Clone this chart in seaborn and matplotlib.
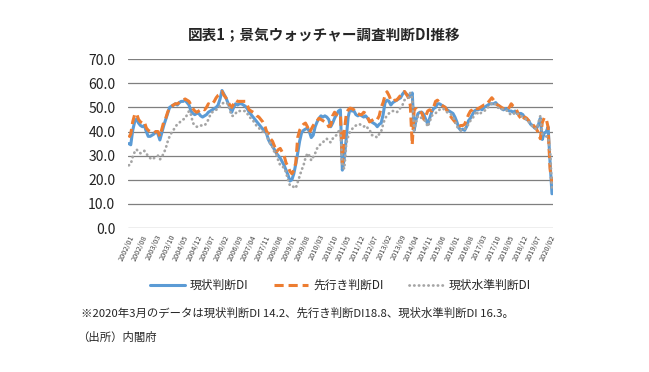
import matplotlib
matplotlib.use('Agg')
import matplotlib.pyplot as plt
import seaborn as sns
import pandas as pd

# months 2002/01 .. 2020/03
months = pd.period_range('2002-01', '2020-03', freq='M').strftime('%Y/%m').tolist()

# 現状判断DI
current_di = [
    35.0, 34.5, 40.5, 44.0, 45.2, 43.5, 42.5, 42.0, 42.5, 40.0, 38.0, 38.0,  # 2002
    38.5, 39.0, 40.0, 39.0, 36.5, 39.5, 42.5, 45.0, 47.5, 50.0, 50.5, 51.0,  # 2003
    51.5, 51.0, 52.0, 52.5, 52.5, 53.0, 52.0, 51.0, 48.5, 47.5, 47.0, 47.5,  # 2004
    47.5, 46.5, 46.0, 46.5, 47.0, 48.0, 48.5, 49.0, 49.5, 50.0, 51.0, 53.5,  # 2005
    57.0, 55.5, 54.0, 52.0, 50.0, 48.0, 50.0, 51.5, 51.0, 51.5, 51.5, 51.0,  # 2006
    50.5, 49.5, 48.0, 47.0, 46.0, 45.0, 44.0, 43.0, 42.0, 41.0, 40.5, 39.0,  # 2007
    36.5, 35.0, 34.0, 32.5, 31.0, 30.0, 29.0, 27.5, 26.0, 24.0, 22.0, 19.5,  # 2008
    20.0, 22.5, 26.5, 31.0, 36.0, 39.5, 40.5, 41.0, 41.5, 40.0, 37.5, 38.5,  # 2009
    42.0, 44.0, 45.5, 46.5, 46.0, 46.5, 46.0, 45.0, 42.0, 43.5, 45.5, 47.0,  # 2010
    48.5, 49.0, 24.0, 29.0, 37.0, 46.0, 49.5, 48.5, 48.5, 47.0, 46.5, 47.0,  # 2011
    46.5, 46.0, 46.5, 45.5, 44.5, 44.0, 43.5, 43.0, 42.0, 43.0, 43.5, 47.0,  # 2012
    52.0, 53.0, 52.5, 51.0, 52.0, 52.5, 53.0, 53.5, 54.0, 55.5, 56.5, 55.5,  # 2013
    55.0, 54.5, 56.0, 40.5, 45.0, 47.5, 48.0, 48.0, 47.0, 45.0, 43.0, 45.5,  # 2014
    48.0, 49.5, 50.0, 51.5, 51.5, 51.0, 50.5, 50.0, 49.0, 48.5, 48.0, 47.5,  # 2015
    46.0, 44.0, 41.5, 40.5, 41.0, 40.5, 42.0, 44.5, 45.5, 47.0, 48.5, 49.0,  # 2016
    49.0, 49.5, 49.0, 50.0, 50.5, 51.0, 51.5, 51.5, 51.5, 52.0, 51.0, 50.5,  # 2017
    49.5, 49.0, 49.5, 49.0, 48.5, 48.5, 48.0, 48.5, 47.5, 47.5, 47.5, 47.0,  # 2018
    45.5, 45.0, 44.5, 43.0, 42.5, 41.5, 41.2, 42.8, 45.5, 36.7, 39.4, 39.8,  # 2019
    41.9, 27.4, 14.2,                                                        # 2020
]

# 先行き判断DI
future_di = [
    37.5, 39.0, 44.0, 47.0, 47.5, 45.0, 44.0, 43.5, 44.0, 41.5, 40.5, 40.0,
    39.5, 39.5, 40.0, 40.0, 38.0, 41.0, 44.0, 45.5, 48.0, 50.0, 50.5, 51.0,
    51.5, 51.5, 52.0, 52.5, 53.0, 53.5, 53.0, 52.5, 51.0, 49.5, 48.5, 48.0,
    48.5, 49.0, 49.5, 49.0, 50.0, 51.5, 51.0, 51.5, 52.5, 54.0, 55.0, 55.5,
    56.6, 55.0, 54.0, 52.5, 51.0, 50.0, 51.5, 53.0, 52.5, 52.5, 52.5, 52.5,
    52.5, 51.0, 49.0, 48.5, 48.0, 47.5, 46.5, 46.0, 45.0, 44.0, 42.5, 40.0,
    39.0, 37.0, 36.0, 34.0, 31.5, 32.5, 33.0, 31.5, 30.0, 27.0, 25.5, 23.5,
    22.5, 24.0, 27.0, 37.5, 40.5, 42.0, 43.0, 43.5, 42.0, 39.5, 41.0, 42.5,
    43.6, 44.5, 45.5, 45.0, 44.5, 44.0, 43.6, 42.0, 42.5, 46.5, 48.0, 47.0,
    46.5, 47.0, 27.0, 40.0, 47.0, 49.0, 49.7, 49.5, 49.0, 48.0, 47.5, 47.0,
    47.0, 48.0, 47.5, 46.0, 44.0, 44.5, 45.0, 45.5, 45.0, 46.5, 50.0, 52.0,
    55.0, 56.5, 55.0, 53.0, 52.5, 53.0, 53.0, 54.0, 55.0, 55.6, 56.6, 55.5,
    54.0, 51.0, 34.5, 49.0, 49.5, 48.5, 48.5, 47.5, 45.0, 46.5, 48.5, 49.0,
    48.5, 50.0, 52.5, 53.0, 52.0, 51.0, 50.5, 50.0, 48.5, 47.5, 46.0, 45.0,
    44.0, 43.0, 42.0, 42.5, 42.5, 43.0, 45.0, 47.0, 48.5, 49.0, 50.0, 49.5,
    49.5, 50.0, 50.5, 51.0, 51.0, 52.0, 53.0, 54.0, 53.0, 51.5, 51.0, 50.5,
    50.0, 49.5, 49.0, 49.0, 50.0, 51.5, 50.5, 50.0, 48.5, 46.5, 45.5, 44.5,
    46.0, 45.5, 44.5, 43.5, 43.0, 42.0, 41.0, 39.5, 37.0, 43.7, 45.7, 45.4,
    41.8, 24.6, 18.8,
]

# 現状水準判断DI
level_di = [
    26.0, 26.5, 29.5, 31.5, 32.6, 31.5, 31.0, 31.5, 32.0, 31.0, 29.6, 29.0,
    28.4, 29.0, 29.5, 30.0, 28.4, 29.5, 31.0, 33.0, 35.8, 38.0, 39.5, 40.6,
    42.0, 43.0, 43.6, 44.5, 45.0, 45.4, 47.0, 48.5, 47.0, 43.6, 42.5, 42.0,
    42.0, 42.5, 42.5, 42.5, 43.5, 45.0, 47.0, 48.0, 48.5, 49.0, 49.5, 50.5,
    51.5, 52.0, 52.0, 51.5, 49.0, 46.5, 46.5, 47.5, 48.5, 48.5, 48.5, 48.5,
    48.5, 47.5, 46.0, 45.5, 44.5, 43.5, 42.0, 41.5, 40.5, 40.0, 39.5, 39.0,
    36.0, 35.0, 33.5, 31.5, 30.5, 28.0, 26.0, 25.5, 25.0, 23.0, 20.0, 17.6,
    17.5, 17.0, 16.5, 19.0, 21.5, 24.0, 26.0, 29.0, 31.0, 30.0, 28.0, 29.5,
    31.0, 33.0, 34.0, 35.0, 35.5, 36.5, 37.0, 36.0, 35.5, 37.0, 38.0, 38.5,
    40.0, 41.0, 26.0, 24.5, 35.0, 38.0, 40.0, 41.0, 42.0, 42.5, 43.0, 43.0,
    42.5, 42.0, 42.5, 41.5, 41.0, 38.5, 38.5, 38.0, 37.5, 39.0, 40.0, 43.0,
    45.5, 46.5, 47.5, 48.0, 48.5, 48.5, 48.0, 48.5, 50.0, 51.0, 53.0, 53.5,
    54.0, 56.0, 53.5, 40.5, 44.0, 46.5, 46.0, 45.5, 45.0, 44.0, 42.0, 44.0,
    46.5, 47.0, 47.5, 48.5, 49.0, 49.5, 49.5, 48.5, 48.0, 47.5, 47.0, 46.0,
    44.5, 42.0, 41.5, 40.5, 40.5, 41.0, 42.0, 43.0, 44.5, 45.5, 46.5, 48.5,
    47.0, 47.5, 48.0, 48.5, 49.0, 50.0, 51.0, 51.5, 52.0, 51.0, 50.0, 49.5,
    49.5, 49.0, 49.0, 48.5, 47.5, 47.0, 47.0, 48.0, 47.5, 47.0, 46.5, 46.0,
    45.5, 45.0, 44.0, 43.0, 42.0, 41.5, 41.0, 43.5, 46.5, 39.0, 38.5, 38.0,
    37.5, 32.0, 16.3,
]

series_names = ['現状判断DI', '先行き判断DI', '現状水準判断DI']
title = '図表1；景気ウォッチャー調査判断DI推移'
note = '※2020年3月のデータは現状判断DI 14.2、先行き判断DI18.8、現状水準判断DI 16.3。'
source = '（出所）内閣府'

sns.set_style('white')
plt.rcParams['font.family'] = ['Noto Sans CJK JP', 'DejaVu Sans']

df = pd.DataFrame({'idx': range(len(months)), 'month': months,
                   'current': current_di, 'future': future_di, 'level': level_di})

fig = plt.figure(figsize=(6.49, 3.72), dpi=100)
ax = fig.add_axes([0.197, 0.387, 0.655, 0.454])

sns.lineplot(data=df, x='idx', y='current', ax=ax, color='#5B9BD5',
             linewidth=2.2, label=series_names[0])
sns.lineplot(data=df, x='idx', y='future', ax=ax, color='#ED7D31',
             linewidth=2.2, linestyle=(0, (3, 1.6)), label=series_names[1])
sns.lineplot(data=df, x='idx', y='level', ax=ax, color='#A5A5A5',
             linewidth=2.0, linestyle=(0, (0.1, 1.6)), dash_capstyle='round',
             label=series_names[2])

ax.set_xlim(-0.5, len(months) - 0.5)
ax.set_ylim(0, 70)
ax.set_yticks(range(0, 71, 10))
ax.set_yticklabels([f'{v:.1f}' for v in range(0, 71, 10)], fontsize=10,
                   color='#222222')
tick_pos = list(range(0, len(months), 7))
ax.set_xticks(tick_pos)
ax.set_xticklabels([months[i] for i in tick_pos], rotation=65, ha='right',
                   rotation_mode='anchor', fontsize=5.3, color='#444444')
ax.tick_params(axis='y', length=0, pad=9)
ax.tick_params(axis='x', length=0, pad=4)
ax.set_xlabel('')
ax.set_ylabel('')
ax.grid(axis='y', color='#7f7f7f', linewidth=0.9)
ax.set_axisbelow(True)
for s in ax.spines.values():
    s.set_visible(False)

ax.legend(loc='upper center', bbox_to_anchor=(0.5, -0.24), ncol=3,
          frameon=False, fontsize=8.5, handlelength=2.9, columnspacing=2.2,
          handletextpad=0.4)

fig.text(0.5, 0.905, title, ha='center', va='center', fontsize=10.5,
         fontweight='bold')
fig.text(0.125, 0.158, note, ha='left', va='center', fontsize=8.2)
fig.text(0.118, 0.093, source, ha='left', va='center', fontsize=8.2)

fig.savefig('out.png', dpi=100)
